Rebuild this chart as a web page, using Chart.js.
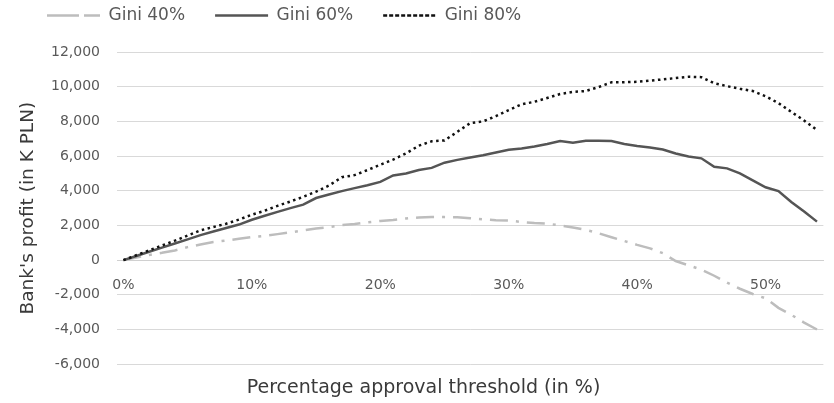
<!DOCTYPE html>
<html>
<head>
<meta charset="utf-8">
<script src="https://cdn.jsdelivr.net/npm/chart.js@4.4.0/dist/chart.umd.min.js"></script>
<style>
  html, body { margin: 0; padding: 0; background: #fff; }
</style>
</head>
<body>
<canvas id="profit-chart" width="834" height="403"></canvas>
<script>
// approval threshold in %, one category per point
const thresholds = [0, 1, 2, 3, 4, 5, 6, 7, 8, 9, 10, 11, 12, 13, 14, 15, 16, 17, 18, 19, 20,
  21, 22, 23, 24, 25, 26, 27, 28, 29, 30, 31, 32, 33, 34, 35, 36, 37, 38, 39, 40,
  41, 42, 43, 44, 45, 46, 47, 48, 49, 50, 51, 52, 53, 54];
const tickLabels = [0, 10, 20, 30, 40, 50];

// bank's profit in K PLN
const gini40 = [0, 150, 300, 420, 560, 750, 900, 1050, 1130, 1230, 1330, 1400, 1500, 1600, 1720,
  1820, 1900, 2020, 2080, 2180, 2260, 2320, 2400, 2460, 2480, 2480, 2470, 2420, 2350, 2300,
  2280, 2200, 2140, 2100, 2000, 1880, 1750, 1550, 1320, 1100, 880, 680, 400, -50, -300,
  -550, -900, -1300, -1650, -1950, -2200, -2750, -3150, -3600, -4000];
const gini60 = [0, 240, 480, 720, 960, 1200, 1440, 1650, 1850, 2050, 2330, 2560, 2780, 3000, 3200,
  3580, 3780, 3980, 4150, 4320, 4510, 4880, 5000, 5200, 5320, 5620, 5780, 5920, 6050, 6200,
  6360, 6440, 6550, 6700, 6870, 6770, 6880, 6880, 6870, 6700, 6580, 6500, 6380, 6150, 5980,
  5870, 5380, 5290, 5000, 4600, 4200, 3980, 3350, 2800, 2220];
const gini80 = [0, 280, 560, 840, 1120, 1420, 1720, 1910, 2100, 2340, 2620, 2850, 3130, 3380, 3650,
  3950, 4300, 4780, 4900, 5190, 5500, 5800, 6150, 6600, 6850, 6900, 7400, 7900, 8000, 8300,
  8650, 8980, 9130, 9350, 9580, 9700, 9750, 9980, 10250, 10260, 10280, 10350, 10420, 10500, 10570,
  10550, 10200, 10030, 9880, 9750, 9450, 9050, 8550, 8050, 7500];

const fontFamily = "'DejaVu Sans', sans-serif";
const tickColor = '#595959';
Chart.defaults.font.family = fontFamily;

// legend needs wide gaps between items, so it gets a big padding and is moved up afterwards
const legendUp = {
  id: 'legendUp',
  afterLayout(chart) {
    const lg = chart.legend;
    if (!lg) return;
    lg.top -= 18;
    lg.bottom -= 18;
  }
};

const ctx = document.getElementById('profit-chart').getContext('2d');
new Chart(ctx, {
  type: 'line',
  data: {
    labels: thresholds,
    datasets: [{
      label: 'Gini 40%',
      data: gini40,
      borderColor: '#bdbdbd',
      backgroundColor: '#bdbdbd',
      borderWidth: 2.5,
      borderDash: [18, 8, 3, 8],
      order: 2
    }, {
      label: 'Gini 60%',
      data: gini60,
      borderColor: '#555555',
      backgroundColor: '#555555',
      borderWidth: 2.5,
      order: 1
    }, {
      label: 'Gini 80%',
      data: gini80,
      borderColor: '#111111',
      backgroundColor: '#111111',
      borderWidth: 2.5,
      borderDash: [2.5, 3.5],
      order: 0
    }]
  },
  options: {
    responsive: false,
    animation: false,
    layout: { padding: { top: -5, left: 17, right: 4, bottom: 0 } },
    elements: {
      point: { radius: 0 },
      line: { tension: 0, fill: false }
    },
    scales: {
      x: {
        type: 'category',
        position: { y: 0 },
        offset: true,
        grid: { display: false, drawTicks: false },
        border: { display: true, color: '#d0d0d0', width: 1 },
        ticks: {
          autoSkip: false,
          maxRotation: 0,
          padding: 17,
          color: tickColor,
          font: { size: 14 },
          callback: function (value, index) {
            const t = thresholds[index];
            return tickLabels.includes(t) ? t + '%' : '';
          }
        }
      },
      y: {
        min: -6000,
        max: 12000,
        ticks: { stepSize: 2000, padding: 17, color: tickColor, font: { size: 14 } },
        grid: { color: '#d9d9d9', drawTicks: false },
        border: { display: false },
        title: {
          display: true,
          text: "Bank's profit (in K PLN)",
          color: '#3a3a3a',
          font: { size: 18.5 },
          padding: { top: 0, bottom: 0 }
        },
        afterFit: function (scale) { scale.width = 100; }
      }
    },
    plugins: {
      legend: {
        position: 'top',
        align: 'start',
        labels: {
          boxWidth: 53,
          boxHeight: 0,
          padding: 30,
          color: tickColor,
          font: { size: 17 },
          sort: (a, b) => a.datasetIndex - b.datasetIndex
        }
      },
      title: {
        display: true,
        position: 'bottom',
        text: 'Percentage approval threshold (in %)',
        color: '#3a3a3a',
        font: { size: 19, weight: 'normal' },
        padding: { top: 12, bottom: 4 }
      },
      tooltip: { enabled: false }
    }
  },
  plugins: [legendUp]
});
</script>
</body>
</html>
